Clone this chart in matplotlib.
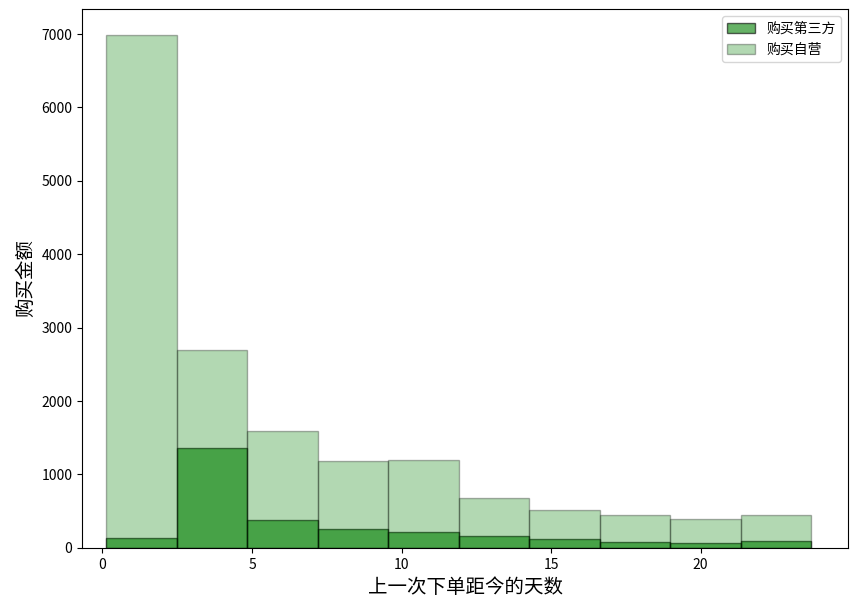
import numpy as np
import matplotlib
matplotlib.use('Agg')
import matplotlib.pyplot as plt

plt.rcParams['font.family'] = ['Noto Sans CJK SC', 'DejaVu Sans']
plt.rcParams['axes.unicode_minus'] = False

# 上一次下单距今的天数 range and per-bin purchase amounts
day_min = 0.12
day_max = 23.7
n_bins = 10
third_party = [136, 1364, 382, 259, 218, 164, 123, 82, 68, 95]
self_run = [6990, 2701, 1596, 1187, 1190, 682, 518, 450, 396, 450]

edges = np.linspace(day_min, day_max, n_bins + 1)
centers = (edges[:-1] + edges[1:]) / 2

fig, ax = plt.subplots(figsize=(8.55, 6.04), dpi=100)
fig.subplots_adjust(left=0.096, right=0.992, top=0.985, bottom=0.093)

ax.hist(centers, bins=edges, weights=third_party, color='green', alpha=0.6,
        edgecolor='black', label='购买第三方')
ax.hist(centers, bins=edges, weights=self_run, color='green', alpha=0.3,
        edgecolor='black', label='购买自营')

ax.set_xlabel('上一次下单距今的天数', fontsize=14)
ax.set_ylabel('购买金额', fontsize=14)
ax.set_xticks([0, 5, 10, 15, 20])
ax.set_xlim(-0.68, 24.93)
ax.set_ylim(0, 7340)
ax.legend(loc='upper right')

fig.savefig('out.png')
